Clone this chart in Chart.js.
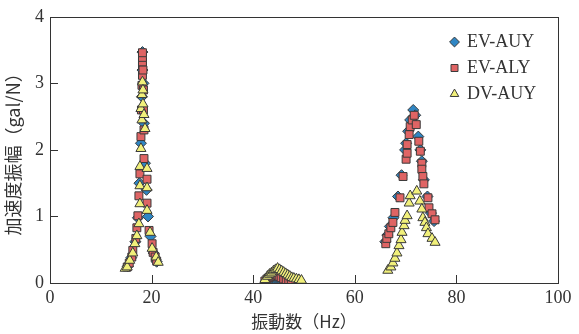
<!DOCTYPE html>
<html>
<head>
<meta charset="utf-8">
<script src="https://cdn.jsdelivr.net/npm/chart.js@4.4.0/dist/chart.umd.min.js"></script>
<style>
html,body{margin:0;padding:0;background:#fff;}
#wrap{width:579px;height:334px;}
</style>
</head>
<body>
<div id="wrap"><canvas id="c" width="579" height="334"></canvas></div>
<script>
// ---- data (frequency in Hz, amplitude in gal/N) ----
const seriesNames = ['EV-AUY', 'EV-ALY', 'DV-AUY'];
const xTicks = [0, 20, 40, 60, 80, 100];
const yTicks = [0, 1, 2, 3, 4];

const auyHz = [15.3,16.0,16.8,17.3,17.6,17.9,18.1,18.2,18.2,18.4,18.5,18.7,19.0,19.3,19.8,20.4,21.0,
  42.5,43.0,43.5,44.0,44.5,45.0,45.5,46.0,46.5,47.0,47.5,48.0,48.5,
  66.0,66.4,66.9,67.6,68.5,69.2,69.9,70.1,70.5,70.9,71.5,71.9,72.5,72.9,73.2,73.6,74.3,75.0,75.6];
const auyAmp = [0.25,0.38,0.62,0.98,1.5,2.1,2.8,3.2,3.47,3.0,2.4,1.8,1.4,1.0,0.7,0.45,0.32,
  0.02,0.04,0.06,0.07,0.06,0.05,0.03,0.02,0.01,0.01,0.01,0.01,0.0,
  0.62,0.72,0.85,0.98,1.3,1.62,2.0,2.1,2.28,2.45,2.6,2.52,2.2,2.0,1.83,1.55,1.3,1.05,0.93];

const alyHz = [15.2,15.6,16.1,16.3,16.9,17.1,17.3,17.5,17.7,17.9,18.0,18.1,18.2,18.2,18.2,18.2,18.2,
  18.3,18.4,18.4,18.5,18.5,19.1,19.1,19.5,20.1,20.3,20.7,21.0,
  42.3,42.7,43.1,43.5,43.9,44.3,44.7,45.1,45.5,46.0,46.5,47.0,47.5,
  66.1,66.3,66.7,67.1,67.5,67.9,68.9,69.5,70.1,70.3,70.3,70.7,70.9,71.3,71.7,
  72.1,72.6,72.9,73.2,73.2,73.4,73.6,74.4,74.6,75.2,75.8];
const alyAmp = [0.24,0.3,0.39,0.49,0.67,0.83,1.01,1.31,1.64,2.2,2.6,2.97,3.12,3.27,3.32,3.39,3.46,
  3.2,2.9,2.6,2.3,1.87,1.56,1.2,0.79,0.59,0.46,0.39,0.33,
  0.03,0.06,0.08,0.1,0.12,0.13,0.12,0.1,0.08,0.06,0.05,0.04,0.03,
  0.59,0.67,0.74,0.83,0.91,1.06,1.28,1.6,1.86,1.95,2.08,2.23,2.35,2.45,2.52,
  2.38,2.13,1.98,1.8,1.71,1.6,1.49,1.28,1.13,1.04,0.95];

const dvHz = [14.8,15.2,15.7,16.3,16.7,17.1,17.5,17.7,17.7,17.7,17.9,17.9,18.1,18.1,18.2,
  18.3,18.3,18.5,18.7,19.1,19.1,19.1,19.7,20.1,20.9,21.3,
  42.3,42.8,43.2,43.6,44.0,44.4,44.8,45.2,45.6,46.0,46.4,46.8,47.2,47.6,48.0,48.5,49.0,49.5,
  66.5,67.1,67.5,67.9,68.3,68.7,69.1,69.3,69.7,69.9,70.3,70.7,70.9,72.2,
  72.8,73.2,73.4,73.8,74.1,74.4,75.2,75.8];
const dvAmp = [0.22,0.24,0.34,0.45,0.59,0.71,0.89,1.19,1.46,1.75,2.02,2.62,2.45,2.83,3.02,
  2.9,2.69,2.53,2.32,1.72,1.43,1.09,0.76,0.52,0.39,0.31,
  0.05,0.1,0.13,0.15,0.18,0.2,0.22,0.2,0.18,0.16,0.14,0.12,0.1,0.08,0.07,0.06,0.05,0.04,
  0.19,0.24,0.3,0.37,0.45,0.56,0.65,0.76,0.86,0.94,1.01,1.2,1.31,1.38,
  1.23,1.11,0.98,0.91,0.83,0.74,0.67,0.61];

function zip(xs, ys) { return xs.map((x, i) => ({x: x, y: ys[i]})); }

const serif = "'Liberation Serif', 'DejaVu Serif', serif";
const cjk = "'Noto Sans CJK JP', 'Noto Sans', sans-serif";
const ink = '#333333';

const framePlugin = {
  id: 'frameTicks',
  afterLayout(chart) {
    const lg = chart.legend;
    if (lg) { lg.left = 443; lg.top = 25; }
  },
  afterDatasetsDraw(chart) {
    const {ctx, chartArea: a, scales} = chart;
    ctx.save();
    ctx.strokeStyle = '#333';
    ctx.lineWidth = 1;
    ctx.beginPath();
    xTicks.forEach(v => {
      const px = Math.round(scales.x.getPixelForValue(v)) + 0.5;
      ctx.moveTo(px, a.bottom); ctx.lineTo(px, a.bottom - 8);
    });
    yTicks.forEach(v => {
      const py = Math.round(scales.y.getPixelForValue(v)) + 0.5;
      ctx.moveTo(a.left, py); ctx.lineTo(a.left + 8, py);
    });
    ctx.stroke();
    ctx.strokeRect(Math.round(a.left) + 0.5, Math.round(a.top) + 0.5,
      Math.round(a.right - a.left), Math.round(a.bottom - a.top));
    ctx.restore();
  }
};

new Chart(document.getElementById('c'), {
  type: 'scatter',
  data: {
    datasets: [
      {label: seriesNames[0], data: zip(auyHz, auyAmp), pointStyle: 'rectRot', pointRadius: 5.5,
        backgroundColor: '#2f86c4', borderColor: '#3a3a3a', borderWidth: 1, order: 3},
      {label: seriesNames[1], data: zip(alyHz, alyAmp), pointStyle: 'rect', pointRadius: 5.6,
        backgroundColor: '#df6464', borderColor: '#3a3a3a', borderWidth: 1, order: 2},
      {label: seriesNames[2], data: zip(dvHz, dvAmp), pointStyle: 'triangle', pointRadius: 5.8,
        backgroundColor: '#f1f07a', borderColor: '#3a3a3a', borderWidth: 1, order: 1}
    ]
  },
  options: {
    responsive: false,
    animation: false,
    layout: {padding: {top: 14, right: 21, left: 0, bottom: 0}},
    plugins: {
      legend: {
        position: 'chartArea',
        align: 'start',
        labels: {
          usePointStyle: true, boxWidth: 7, boxHeight: 7, padding: 8,
          color: ink, font: {family: serif, size: 18},
          sort: (a, b) => a.datasetIndex - b.datasetIndex
        }
      },
      tooltip: {enabled: false}
    },
    scales: {
      x: {
        type: 'linear', min: 0, max: 100,
        afterBuildTicks: s => { s.ticks = xTicks.map(v => ({value: v})); },
        afterFit: s => { s.height = 51; },
        grid: {display: false, drawTicks: false},
        border: {display: false},
        ticks: {color: ink, font: {family: serif, size: 18}, padding: 4, maxRotation: 0},
        title: {display: true, text: '振動数（Hz）', color: ink, font: {family: cjk, size: 17},
          padding: {top: 0, bottom: 2}}
      },
      y: {
        type: 'linear', min: 0, max: 4,
        afterBuildTicks: s => { s.ticks = yTicks.map(v => ({value: v})); },
        afterFit: s => { s.width = 50; },
        grid: {display: false, drawTicks: false},
        border: {display: false},
        ticks: {color: ink, font: {family: serif, size: 18}, padding: 6},
        title: {display: true, text: '加速度振幅（gal/N）', color: ink, font: {family: cjk, size: 18},
          padding: {top: 2, bottom: 0}}
      }
    }
  },
  plugins: [framePlugin]
});
</script>
</body>
</html>
